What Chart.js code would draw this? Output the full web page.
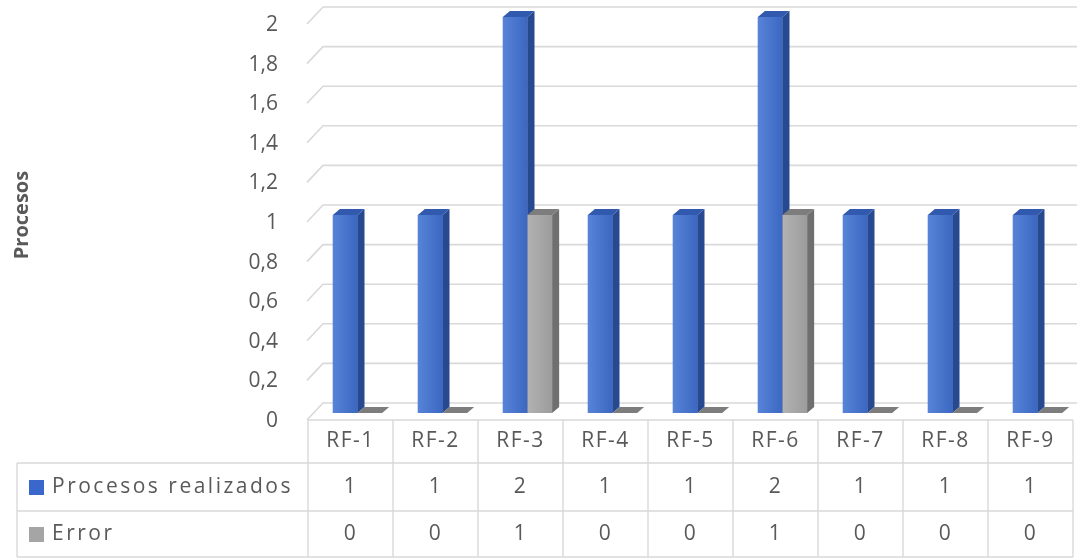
<!DOCTYPE html>
<html><head><meta charset="utf-8">
<script src="https://cdn.jsdelivr.net/npm/chart.js@4.4.0/dist/chart.umd.min.js"></script>
<style>html,body{margin:0;padding:0;background:#fff;overflow:hidden}#wrap{width:1080px;height:559px;position:relative}</style>
</head><body><div id="wrap"><canvas id="c" width="1080" height="559"></canvas></div>
<script>
const categories = ['RF-1','RF-2','RF-3','RF-4','RF-5','RF-6','RF-7','RF-8','RF-9'];
const procesosRealizados = [1,1,2,1,1,2,1,1,1];
const errores = [0,0,1,0,0,1,0,0,0];
const seriesNames = ['Procesos realizados','Error'];
const yTickLabels = ['0','0,2','0,4','0,6','0,8','1','1,2','1,4','1,6','1,8','2'];
const yTitle = 'Procesos';

const FONT = '"Open Sans", "DejaVu Sans", sans-serif';
const TXT = '#595959';
const LINE = '#d9d9d9';
const DX = 7, DY = 6;
const palette = [
  {front0:'#5784d8', front1:'#3b67c1', side:'#27498f', top:'#3159ad', key:'#3a67cc'},
  {front0:'#b2b2b2', front1:'#9c9c9c', side:'#6f6f6f', top:'#7d7d7d', key:'#a5a5a5'}
];

const threeD = {
  id:'threeD',
  beforeDatasetsDraw(chart){
    const ctx = chart.ctx, ys = chart.scales.y, a = chart.chartArea;
    ctx.save();
    ctx.strokeStyle = LINE; ctx.lineWidth = 1.6;
    ys.ticks.forEach(t=>{
      const y = ys.getPixelForValue(t.value);
      ctx.beginPath();
      ctx.moveTo(a.left-8, y+7);
      ctx.lineTo(a.left+8, y-10);
      ctx.lineTo(a.right-3, y-10);
      ctx.stroke();
    });
    ctx.restore();
  },
  afterDatasetsDraw(chart){
    const ctx = chart.ctx;
    ctx.save();
    [0,1].forEach(di=>{
      const meta = chart.getDatasetMeta(di), p = palette[di];
      meta.data.forEach(el=>{
        const x1 = el.x - el.width/2, x2 = el.x + el.width/2, top = el.y, base = el.base;
        if (base - top > 0.5){
          const g = ctx.createLinearGradient(x1,0,x2,0);
          g.addColorStop(0,p.front0); g.addColorStop(1,p.front1);
          ctx.fillStyle = g; ctx.fillRect(x1, top, x2-x1, base-top);
          ctx.fillStyle = p.side;
          ctx.beginPath();
          ctx.moveTo(x2, top); ctx.lineTo(x2+DX, top-DY); ctx.lineTo(x2+DX, base-DY); ctx.lineTo(x2, base);
          ctx.closePath(); ctx.fill();
        }
        ctx.fillStyle = p.top;
        ctx.beginPath();
        ctx.moveTo(x1, top); ctx.lineTo(x1+DX, top-DY); ctx.lineTo(x2+DX, top-DY); ctx.lineTo(x2, top);
        ctx.closePath(); ctx.fill();
      });
    });
    ctx.restore();
  },
  afterDraw(chart){
    const ctx = chart.ctx, xs = chart.scales.x;
    const n = categories.length;
    const colW = (xs.getPixelForValue(1) - xs.getPixelForValue(0));
    const bx = i => xs.getPixelForValue(0) - colW/2 - 7 + i*colW;
    const left = 17, tLeft = bx(0), tRight = bx(n);
    const r0 = 420, r1 = 463, r2 = 511, r3 = 557;
    ctx.save();
    ctx.strokeStyle = LINE; ctx.lineWidth = 1.4;
    ctx.beginPath();
    ctx.moveTo(tLeft, r0); ctx.lineTo(tRight, r0);
    ctx.moveTo(left, r1); ctx.lineTo(tRight, r1);
    ctx.moveTo(left, r2); ctx.lineTo(tRight, r2);
    ctx.moveTo(left, r3); ctx.lineTo(tRight, r3);
    ctx.moveTo(left, r1); ctx.lineTo(left, r3);
    for (let i=0;i<=n;i++){ ctx.moveTo(bx(i), r0); ctx.lineTo(bx(i), r3); }
    ctx.stroke();
    ctx.fillStyle = TXT;
    ctx.font = '21px ' + FONT;
    try { ctx.letterSpacing = '1.5px'; } catch(e) {}
    ctx.textAlign = 'center'; ctx.textBaseline = 'middle';
    const rows = [procesosRealizados, errores];
    for (let i=0;i<n;i++){
      const cx = bx(i) + colW/2;
      ctx.fillText(categories[i], cx, (r0+r1)/2);
      ctx.fillText(String(rows[0][i]), cx, (r1+r2)/2);
      ctx.fillText(String(rows[1][i]), cx, (r2+r3)/2);
    }
    ctx.textAlign = 'left';
    try { ctx.letterSpacing = '2.5px'; } catch(e) {}
    [[r1,r2],[r2,r3]].forEach((r,k)=>{
      const cy = (r[0]+r[1])/2;
      ctx.fillStyle = palette[k].key;
      ctx.fillRect(29, cy-7, 15, 15);
      ctx.fillStyle = TXT;
      ctx.fillText(seriesNames[k], 52, cy);
    });
    ctx.restore();
  }
};

new Chart(document.getElementById('c'), {
  type:'bar',
  data:{
    labels: categories,
    datasets:[
      {label: seriesNames[0], data: procesosRealizados, backgroundColor: palette[0].front1, borderWidth:0},
      {label: seriesNames[1], data: errores, backgroundColor: palette[1].front1, borderWidth:0}
    ]
  },
  options:{
    responsive:false, devicePixelRatio:1, animation:false,
    layout:{padding:{top:17, bottom:146, left:0, right:0}},
    categoryPercentage:0.58, barPercentage:1,
    plugins:{legend:{display:false}, tooltip:{enabled:false}},
    scales:{
      x:{display:false},
      y:{
        min:0, max:2,
        grid:{display:false, drawTicks:false}, border:{display:false},
        ticks:{stepSize:0.2, padding:37, labelOffset:8, color:TXT, font:{family:FONT, size:21},
          callback:(v,i)=>yTickLabels[i]},
        title:{display:true, text:yTitle, color:TXT, font:{family:FONT, size:20, weight:'bold'}, padding:{top:10,bottom:0}},
        afterFit(s){ s.width = 315; s.paddingTop = 0; s.paddingBottom = 0; }
      }
    }
  },
  plugins:[threeD]
});
</script></body></html>
